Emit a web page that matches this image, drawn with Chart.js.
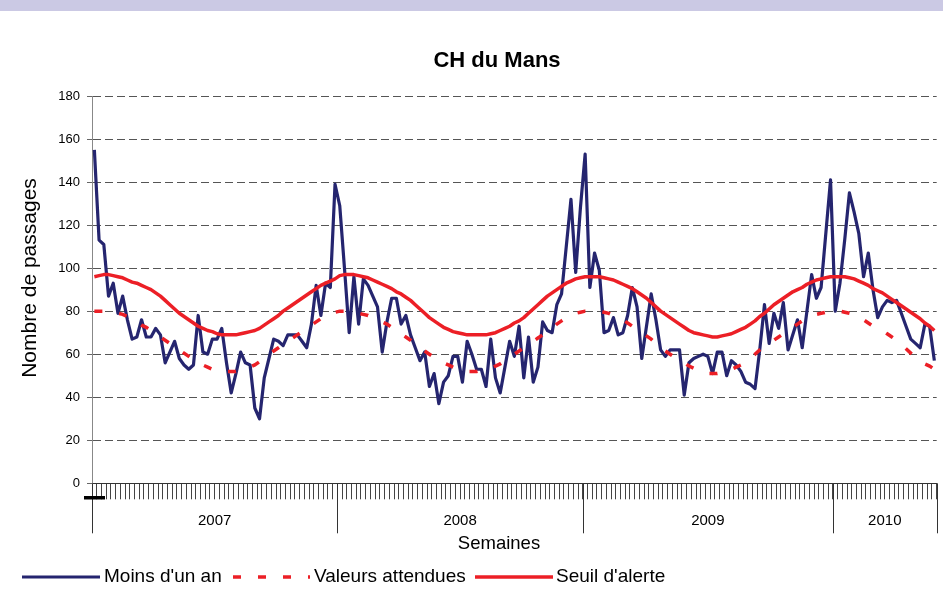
<!DOCTYPE html>
<html>
<head>
<meta charset="utf-8">
<script src="https://cdn.jsdelivr.net/npm/chart.js@4.4.0/dist/chart.umd.min.js"></script>
<style>
  html, body { margin: 0; padding: 0; background: #fff; }
</style>
</head>
<body>
<canvas id="chart" width="943" height="592"></canvas>
<script>
// years and number of weeks shown for each
const annees = ['2007', '2008', '2009', '2010'];
const semainesParAnnee = [52, 52, 53, 22];

// "Moins d'un an" - weekly counts
const passages2007 = [155, 113, 111, 87, 93, 79, 87, 76, 67, 68, 76, 68, 68, 72, 69, 56, 61, 66, 58, 55,
  53, 55, 78, 61, 60, 67, 67, 72, 56, 42, 51, 61, 56, 55, 35, 30, 49, 58, 67, 66,
  64, 69, 69, 69, 66, 63, 74, 92, 78, 93, 91, 139];
const passages2008 = [129, 100, 70, 96, 74, 95, 92, 87, 82, 61, 75, 86, 86, 74, 78, 69, 63, 57, 61, 45,
  51, 37, 47, 50, 59, 59, 47, 66, 60, 53, 53, 45, 67, 49, 42, 54, 66, 59, 73, 49,
  68, 47, 54, 75, 71, 70, 83, 88, 110, 132, 98, 128];
const passages2009 = [153, 91, 107, 99, 70, 71, 77, 69, 70, 78, 91, 82, 58, 73, 88, 76, 62, 59, 62, 62,
  62, 41, 56, 58, 59, 60, 59, 51, 61, 61, 50, 57, 55, 52, 47, 46, 44, 62, 83, 65,
  79, 72, 84, 62, 69, 76, 63, 80, 97, 86, 91, 116, 141];
const passages2010 = [80, 93, 113, 135, 126, 116, 96, 107, 90, 77, 82, 85, 84, 85, 79, 73, 67, 65, 63, 74,
  73, 57];

// "Valeurs attendues"
const attendues2007 = [80, 80, 80, 80, 79.5, 79, 78.5, 77.5, 76.5, 75, 73.5, 72.5, 71, 69.5, 68, 66.5,
  65, 63.5, 62, 60.5, 59, 57.5, 56.5, 55, 54, 53, 52.5, 52, 52, 52, 52, 52.5,
  53, 54, 55, 56.5, 58, 60, 61.5, 63, 64.5, 66, 67.5, 69, 70.5, 72, 73.5, 75,
  76.5, 77.5, 78.5, 79.5];
const attendues2008 = [80, 80, 80, 79.5, 79, 78.5, 78, 77, 76, 75, 74, 72.5, 71, 69.5, 68, 66.5,
  64.5, 63, 61.5, 60, 58.5, 57, 56, 55, 54, 53, 52.5, 52, 52, 52, 52.5, 53,
  53.5, 54.5, 55.5, 57, 58.5, 60, 61.5, 63, 64.5, 66, 67.5, 69, 70.5, 72, 74, 75.5,
  77, 78, 79, 79.5];
const attendues2009 = [80, 80, 80, 80, 79.5, 79, 78, 77, 76, 74.5, 73, 71.5, 70, 68.5, 67, 65,
  63, 61.5, 60, 58.5, 57, 56, 54.5, 53.5, 52.5, 51.5, 51, 51, 51, 51.5, 52, 53,
  54, 55, 56.5, 58.5, 60, 62, 63.5, 65, 66.5, 68, 69.5, 71, 72.5, 74, 75.5, 76.5,
  77.5, 78.5, 79, 79.5, 80];
const attendues2010 = [80, 80, 79.5, 79, 78.5, 77.5, 76, 74.5, 73, 72, 71, 69.5, 68, 66.5, 64.5, 62.5,
  60.5, 58.5, 57, 55.5, 54.5, 53];

// "Seuil d'alerte"
const seuil2007 = [96, 96.5, 97, 97, 96.5, 96, 95.5, 94.5, 93.5, 93, 92, 91, 90, 88.5, 87, 85,
  83, 81, 79, 77.5, 76, 74.5, 73, 72, 71, 70.5, 69.5, 69, 69, 69, 69, 69.5,
  70, 70.5, 71, 72, 73.5, 75, 76.5, 78, 80, 81.5, 83, 84.5, 86, 87.5, 89, 90.5,
  92, 93, 94, 95];
const seuil2008 = [96.5, 97, 97, 97, 96.5, 96, 95.5, 94.5, 93.5, 92.5, 91.5, 90.5, 89, 88, 86.5, 85,
  83, 81, 79, 77, 75.5, 74, 72.5, 71.5, 70.5, 70, 69.5, 69, 69, 69, 69, 69,
  69.5, 70, 71, 72, 73, 74.5, 75.5, 77, 79, 81, 83, 85, 87, 88.5, 90, 91.5,
  93, 94, 95, 95.5];
const seuil2009 = [96, 96, 96, 96, 95.5, 95, 94.5, 93.5, 92.5, 91.5, 90.5, 89, 87.5, 86, 84, 82,
  80, 78.5, 77, 75.5, 74, 72.5, 71, 70, 69.5, 69, 68.5, 68, 68, 68.5, 69, 69.5,
  70.5, 71.5, 72.5, 74, 75.5, 77.5, 79, 81, 83, 84.5, 86, 87.5, 89, 90, 91, 92.5,
  93.5, 94.5, 95, 95.5, 96];
const seuil2010 = [96, 96, 96, 95.5, 95, 94, 93, 92, 90.5, 89.5, 88.5, 87, 85.5, 84, 82.5, 81,
  79.5, 78, 76.5, 74.5, 73, 71];

const yTicks = [0, 20, 40, 60, 80, 100, 120, 140, 160, 180];

const moinsUnAn = [...passages2007, ...passages2008, ...passages2009, ...passages2010];
const valeursAttendues = [...attendues2007, ...attendues2008, ...attendues2009, ...attendues2010];
const seuilAlerte = [...seuil2007, ...seuil2008, ...seuil2009, ...seuil2010];

const labels = [];
annees.forEach((a, k) => {
  for (let w = 1; w <= semainesParAnnee[k]; w++) labels.push(a + '-S' + w);
});

const FONT = '"Liberation Sans", Arial, sans-serif';
const NAVY = '#25256f';
const RED = '#ec1f26';

Chart.defaults.font.family = FONT;
Chart.defaults.color = '#000';

// draws the band, title, year groups, axis titles and legend
const habillage = {
  id: 'habillage',
  beforeDraw(chart) {
    const ctx = chart.ctx;
    ctx.save();
    ctx.fillStyle = '#ffffff';
    ctx.fillRect(0, 0, chart.width, chart.height);
    ctx.fillStyle = '#cbc9e4';
    ctx.fillRect(0, 0, chart.width, 11);
    ctx.restore();
  },
  afterDraw(chart) {
    const ctx = chart.ctx;
    const x = chart.scales.x;
    const area = chart.chartArea;
    ctx.save();

    // year separators
    const bornes = [0];
    semainesParAnnee.forEach(n => bornes.push(bornes[bornes.length - 1] + n));
    ctx.strokeStyle = '#333';
    ctx.lineWidth = 1;
    bornes.forEach(b => {
      const px = Math.round(x.getPixelForValue(b - 0.5)) + 0.5;
      ctx.beginPath();
      ctx.moveTo(px, area.bottom);
      ctx.lineTo(px, area.bottom + 50);
      ctx.stroke();
    });
    ctx.fillStyle = '#000';
    ctx.textAlign = 'center';
    ctx.textBaseline = 'middle';
    ctx.font = '15px ' + FONT;
    annees.forEach((a, k) => {
      const x1 = x.getPixelForValue(bornes[k] - 0.5);
      const x2 = x.getPixelForValue(bornes[k + 1] - 0.5);
      ctx.fillText(a, (x1 + x2) / 2, area.bottom + 38);
    });

    // odd little black dash under the origin
    ctx.fillRect(84, 496, 21, 3.5);

    // axis titles
    ctx.font = '18.5px ' + FONT;
    ctx.fillText('Semaines', 499, 544);
    ctx.save();
    ctx.translate(30, 278);
    ctx.rotate(-Math.PI / 2);
    ctx.font = '21px ' + FONT;
    ctx.fillText('Nombre de passages', 0, 0);
    ctx.restore();

    // title
    ctx.font = 'bold 22px ' + FONT;
    ctx.fillText('CH du Mans', 497, 61);

    // legend
    const ly = 577;
    const items = [
      { ds: chart.data.datasets[0], x1: 22, x2: 100, tx: 104 },
      { ds: chart.data.datasets[1], x1: 233, x2: 310, tx: 314 },
      { ds: chart.data.datasets[2], x1: 475, x2: 553, tx: 556 }
    ];
    ctx.font = '19px ' + FONT;
    ctx.textAlign = 'left';
    items.forEach(it => {
      ctx.save();
      ctx.strokeStyle = it.ds.borderColor;
      ctx.lineWidth = it.ds.borderWidth;
      ctx.setLineDash(it.ds.borderDash || []);
      ctx.beginPath();
      ctx.moveTo(it.x1, ly);
      ctx.lineTo(it.x2, ly);
      ctx.stroke();
      ctx.restore();
      ctx.fillText(it.ds.label, it.tx, ly);
    });
    ctx.restore();
  }
};

new Chart(document.getElementById('chart'), {
  type: 'line',
  data: {
    labels: labels,
    datasets: [
      {
        label: "Moins d'un an",
        data: moinsUnAn,
        borderColor: NAVY,
        borderWidth: 3.2,
        borderJoinStyle: 'round',
        pointRadius: 0,
        tension: 0,
        order: 3
      },
      {
        label: 'Valeurs attendues',
        data: valeursAttendues,
        borderColor: RED,
        borderWidth: 3.5,
        borderDash: [8, 17],
        pointRadius: 0,
        tension: 0,
        order: 2
      },
      {
        label: "Seuil d'alerte",
        data: seuilAlerte,
        borderColor: RED,
        borderWidth: 3.5,
        borderJoinStyle: 'round',
        pointRadius: 0,
        tension: 0,
        order: 1
      }
    ]
  },
  options: {
    responsive: false,
    animation: false,
    layout: { padding: { top: 96, right: 6.3, left: 0, bottom: 0 } },
    plugins: {
      legend: { display: false },
      title: { display: false },
      tooltip: { enabled: false }
    },
    scales: {
      x: {
        offset: true,
        ticks: { display: false, autoSkip: false },
        grid: {
          offset: true,
          drawOnChartArea: false,
          drawTicks: true,
          tickLength: 16,
          color: '#444',
          tickColor: '#444'
        },
        border: { display: true, color: '#333', width: 1 },
        afterFit(s) { s.height = 108.7; }
      },
      y: {
        min: yTicks[0],
        max: yTicks[yTicks.length - 1],
        afterBuildTicks(s) { s.ticks = yTicks.map(v => ({ value: v })); },
        ticks: { color: '#000', font: { size: 13 }, padding: 7 },
        grid: {
          color: '#555',
          lineWidth: 1,
          drawTicks: true,
          tickLength: 5,
          tickColor: '#666'
        },
        border: { display: true, color: '#888', width: 1, dash: [8, 4] },
        afterFit(s) { s.width = 92; }
      }
    }
  },
  plugins: [habillage]
});
</script>
</body>
</html>
